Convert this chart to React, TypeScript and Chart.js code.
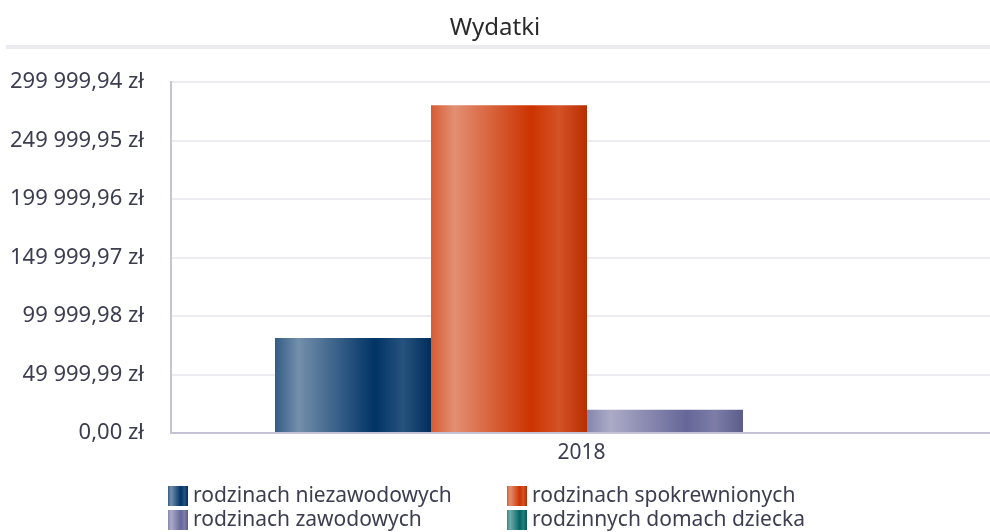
import React, { useEffect, useRef } from "react";
import { Chart, registerables } from "chart.js";

Chart.register(...registerables);

const chartTitle = "Wydatki";
const categories = ["2018"];
const seriesNames = [
  "rodzinach niezawodowych",
  "rodzinach spokrewnionych",
  "rodzinach zawodowych",
  "rodzinnych domach dziecka",
];
const seriesColors = ["#003366", "#cc3300", "#666699", "#006666"];
const niezawodowych = [81300];
const spokrewnionych = [280100];
const zawodowych = [19900];
const domachDziecka = [0];
const yTickValues = [0, 49999.99, 99999.98, 149999.97, 199999.96, 249999.95, 299999.94];
const yTickLabels = [
  "0,00 zł",
  "49 999,99 zł",
  "99 999,98 zł",
  "149 999,97 zł",
  "199 999,96 zł",
  "249 999,95 zł",
  "299 999,94 zł",
];

const FONT = '"Noto Sans", "Open Sans", sans-serif';
const TEXT = "#3d3d52";
const CAT_PCT = 0.75;
const X_AXIS_EXTENT = 832;

function hexToRgb(h: string) {
  const n = parseInt(h.slice(1), 16);
  return [(n >> 16) & 255, (n >> 8) & 255, n & 255];
}
function mix(base: string, target: string, t: number) {
  const a = hexToRgb(base);
  const b = hexToRgb(target);
  const c = a.map((v, i) => Math.round(v + (b[i] - v) * t));
  return `rgb(${c[0]},${c[1]},${c[2]})`;
}
function makeGradient(ctx: CanvasRenderingContext2D, x0: number, x1: number, base: string) {
  const g = ctx.createLinearGradient(x0, 0, x1, 0);
  g.addColorStop(0, mix(base, "#ffffff", 0.2));
  g.addColorStop(0.15, mix(base, "#ffffff", 0.45));
  g.addColorStop(0.64, base);
  g.addColorStop(0.82, mix(base, "#ffffff", 0.15));
  g.addColorStop(1, mix(base, "#000000", 0.1));
  return g;
}

const widenX = {
  id: "widenX",
  afterLayout(chart: any) {
    const xs = chart.scales.x;
    xs.right = xs.left + X_AXIS_EXTENT;
    xs.width = X_AXIS_EXTENT;
    xs.configure();
  },
};

const titleRule = {
  id: "titleRule",
  afterDraw(chart: any) {
    const c = chart.ctx;
    c.save();
    c.strokeStyle = "#ebebf0";
    c.lineWidth = 4;
    c.beginPath();
    c.moveTo(6, 47);
    c.lineTo(chart.width, 47);
    c.stroke();
    c.restore();
  },
};

const gridLegend = {
  id: "gridLegend",
  afterDraw(chart: any) {
    const c = chart.ctx;
    const cols = [168, 507];
    const rows = [496, 520];
    c.save();
    c.font = `21px ${FONT}`;
    c.textBaseline = "middle";
    c.textAlign = "left";
    chart.data.datasets.forEach((ds: any, i: number) => {
      const x = cols[i % 2];
      const y = rows[Math.floor(i / 2)];
      c.fillStyle = makeGradient(c, x, x + 20, seriesColors[i]);
      c.fillRect(x, y - 10, 20, 20);
      c.fillStyle = TEXT;
      c.fillText(ds.label, x + 25, y);
    });
    c.restore();
  },
};

function barFill(i: number) {
  return (ctx: any) => {
    const chart = ctx.chart;
    const xs = chart.scales && chart.scales.x;
    if (!xs || !chart.chartArea) return seriesColors[i];
    const n = chart.data.datasets.length;
    const catW = (xs.right - xs.left) / categories.length;
    const center = xs.getPixelForValue(ctx.dataIndex ?? 0);
    const barW = (catW * CAT_PCT) / n;
    const left = center - (catW * CAT_PCT) / 2 + i * barW;
    return makeGradient(chart.ctx, left, left + barW, seriesColors[i]);
  };
}

export default function App() {
  const ref = useRef<HTMLCanvasElement>(null);
  useEffect(() => {
    document.body.style.margin = "0";
    const seriesData = [niezawodowych, spokrewnionych, zawodowych, domachDziecka];
    const chart = new Chart(ref.current!, {
      type: "bar",
      data: {
        labels: categories,
        datasets: seriesNames.map((name, i) => ({
          label: name,
          data: seriesData[i],
          backgroundColor: barFill(i),
          borderWidth: 0,
          barPercentage: 1,
          categoryPercentage: CAT_PCT,
        })),
      },
      options: {
        responsive: false,
        animation: false,
        layout: { padding: { top: 0, left: 0, right: 0, bottom: 66 } },
        plugins: {
          legend: { display: false },
          tooltip: { enabled: false },
          title: {
            display: true,
            text: chartTitle,
            color: "#2a2a2a",
            font: { family: FONT, size: 24, weight: "normal" },
            padding: { top: 13.6, bottom: 39.6 },
          },
        },
        scales: {
          x: {
            grid: { display: false, drawTicks: false },
            border: { color: "#c2c2d4", width: 2 },
            ticks: { color: TEXT, font: { family: FONT, size: 21 }, padding: 7, labelOffset: -5.5 },
            afterFit: (s: any) => {
              s.height = 33;
            },
          },
          y: {
            min: 0,
            max: yTickValues[yTickValues.length - 1],
            grid: { color: "#ebebf1", lineWidth: 2, drawTicks: false },
            border: { color: "#c4c4d6", width: 2 },
            afterBuildTicks: (s: any) => {
              s.ticks = yTickValues.map((v) => ({ value: v }));
            },
            ticks: {
              color: TEXT,
              font: { family: FONT, size: 22 },
              padding: 27,
              callback: (_v: any, idx: number) => yTickLabels[idx],
            },
            afterFit: (s: any) => {
              s.width = 171;
            },
          },
        },
      },
      plugins: [widenX, titleRule, gridLegend],
    });
    return () => chart.destroy();
  }, []);
  return (
    <div style={{ width: 990, height: 532 }}>
      <canvas ref={ref} width={990} height={532} />
    </div>
  );
}
